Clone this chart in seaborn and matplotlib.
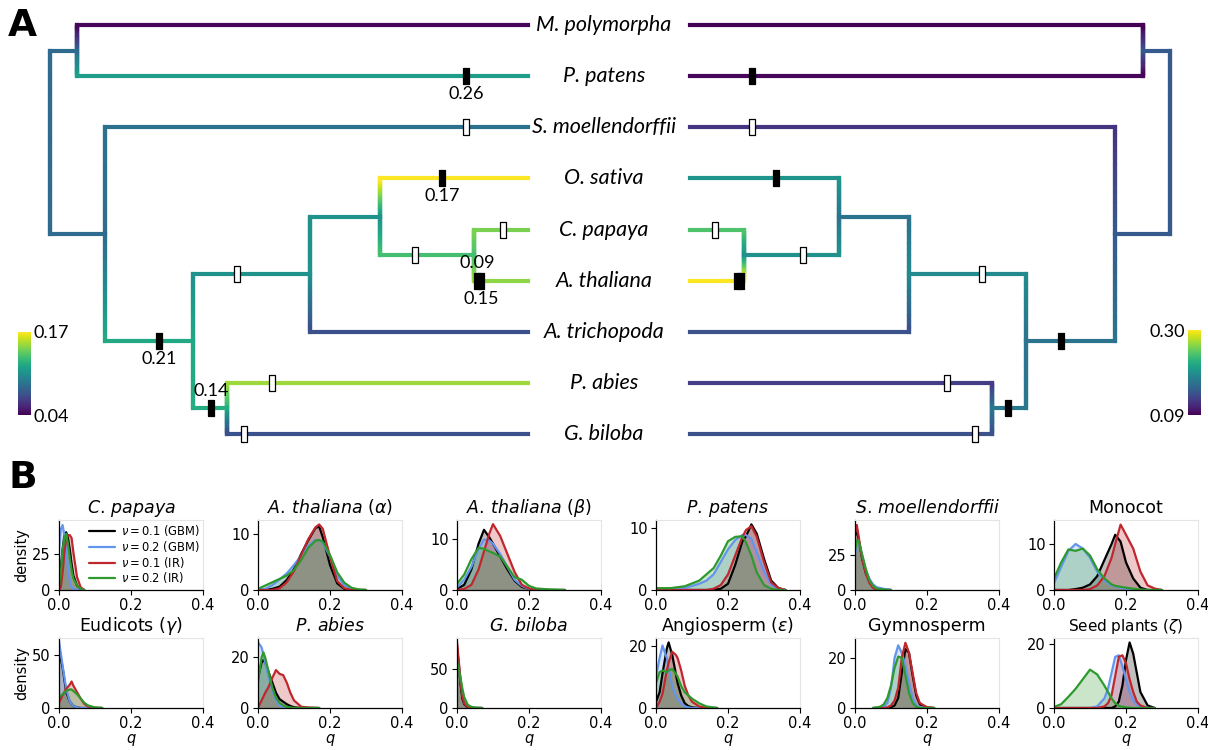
import numpy as np
import pandas as pd
import matplotlib
matplotlib.use("Agg")
import matplotlib.pyplot as plt
import matplotlib.transforms as mtransforms
from matplotlib.collections import LineCollection
from matplotlib.colors import Normalize
from matplotlib.colorbar import ColorbarBase
import seaborn as sns

# -------------------------------
# Panel A: species tree with WGD marks
# -------------------------------
TIPS = ["M. polymorpha", "P. patens", "S. moellendorffii", "O. sativa", "C. papaya",
        "A. thaliana", "A. trichopoda", "P. abies", "G. biloba"]

CHILDREN = {
    "root": ["bryophytes", "vascular"],
    "bryophytes": ["M. polymorpha", "P. patens"],
    "vascular": ["S. moellendorffii", "seed plants"],
    "seed plants": ["angiosperms", "gymnosperms"],
    "angiosperms": ["mesangiosperms", "A. trichopoda"],
    "mesangiosperms": ["O. sativa", "eudicots"],
    "eudicots": ["C. papaya", "A. thaliana"],
    "gymnosperms": ["P. abies", "G. biloba"],
}

# relative node ages (tips = 0, root = 1)
NODE_AGE = {"root": 1.0, "bryophytes": 0.944, "vascular": 0.885, "seed plants": 0.701,
            "angiosperms": 0.456, "mesangiosperms": 0.31, "eudicots": 0.113,
            "gymnosperms": 0.63}

# branch rates, left tree (scale 0.04-0.17) and right tree (0.09-0.30)
Q_LEFT = {"bryophytes": 0.085, "M. polymorpha": 0.042, "P. patens": 0.112,
          "vascular": 0.085, "S. moellendorffii": 0.089, "seed plants": 0.118,
          "angiosperms": 0.106, "A. trichopoda": 0.072, "mesangiosperms": 0.106,
          "O. sativa": 0.17, "eudicots": 0.131, "C. papaya": 0.144,
          "A. thaliana": 0.148, "gymnosperms": 0.12, "P. abies": 0.151,
          "G. biloba": 0.072}
Q_RIGHT = {"bryophytes": 0.149, "M. polymorpha": 0.09, "P. patens": 0.094,
           "vascular": 0.149, "S. moellendorffii": 0.122, "seed plants": 0.17,
           "angiosperms": 0.19, "A. trichopoda": 0.143, "mesangiosperms": 0.17,
           "O. sativa": 0.199, "eudicots": 0.195, "C. papaya": 0.241,
           "A. thaliana": 0.30, "gymnosperms": 0.174, "P. abies": 0.128,
           "G. biloba": 0.143}
Q_LEFT_RANGE = (0.04, 0.17)
Q_RIGHT_RANGE = (0.09, 0.30)

WGD_BRANCH = ["P. patens", "S. moellendorffii", "O. sativa", "C. papaya", "A. thaliana",
              "A. thaliana", "eudicots", "angiosperms", "seed plants", "gymnosperms",
              "P. abies", "G. biloba"]
WGD_AGE = [0.13, 0.13, 0.18, 0.052, 0.107, 0.098, 0.236, 0.609, 0.772, 0.663, 0.536, 0.594]
WGD_SOLID = [True, False, True, False, True, True, False, False, True, True, False, False]
WGD_LABEL = ["0.26", "", "0.17", "", "0.09", "0.15", "", "", "0.21", "0.14", "", ""]
WGD_LABEL_SIDE = ["below", "", "below", "", "above", "below", "", "", "below", "above", "", ""]

# -------------------------------
# Panel B: posterior densities of q
# -------------------------------
MODELS = [r"$\nu = 0.1$ (GBM)", r"$\nu = 0.2$ (GBM)", r"$\nu = 0.1$ (IR)", r"$\nu = 0.2$ (IR)"]
MODEL_COLORS = ["black", "cornflowerblue", "#c0272d", "#2e9a2e"]

TITLES = [r"$C.\,papaya$", r"$A.\,thaliana$ ($\alpha$)", r"$A.\,thaliana$ ($\beta$)",
          r"$P.\,patens$", r"$S.\,moellendorffii$", "Monocot",
          r"Eudicots ($\gamma$)", r"$P.\,abies$", r"$G.\,biloba$",
          r"Angiosperm ($\epsilon$)", "Gymnosperm", r"Seed plants ($\zeta$)"]
YMAX = [48.5, 12.6, 13.6, 11.2, 49.5, 15.2, 66, 27.7, 90, 22.4, 27.9, 21.9]
YTICK = [25, 10, 10, 10, 25, 10, 50, 20, 50, 20, 20, 20]

# each *_d holds densities for the four models, in MODELS order
papaya_q = [0, .005, .01, .015, .02, .025, .03, .035, .04, .05, .06, .07]
papaya_d = [[5, 15, 28, 38, 40, 36, 28, 18, 10, 3, 1, 0],
            [28, 42, 45, 38, 28, 15, 6, 2, 1, 0, 0, 0],
            [0, 2, 12, 26, 35, 38, 38, 36, 26, 9, 2, 0],
            [3, 12, 28, 36, 39, 32, 22, 14, 8, 3, 1, 0]]

alpha_q = [0, .02, .04, .06, .08, .10, .12, .14, .16, .17, .18, .20, .22, .24, .26, .28, .30]
alpha_d = [[0, 0, 0.2, 0.6, 1.8, 3.8, 6.5, 9.0, 11.2, 11.4, 9.5, 4.5, 1.2, 0.2, 0, 0, 0],
           [0, 0.2, 0.9, 1.9, 3.0, 4.5, 6.2, 8.0, 9.0, 9.0, 8.5, 6.0, 2.6, 0.8, 0.2, 0, 0],
           [0, 0, 0, 0.3, 1.4, 3.4, 6.3, 9.2, 11.3, 11.8, 11.0, 6.0, 1.6, 0.3, 0, 0, 0],
           [0.2, 0.8, 1.4, 2.0, 2.6, 3.6, 5.4, 7.6, 8.9, 9.0, 8.7, 6.3, 3.2, 1.3, 0.4, 0.1, 0]]

beta_q = [0, .02, .04, .06, .075, .09, .10, .12, .14, .16, .18, .20, .22, .26, .30]
beta_d = [[0.2, 1.0, 4.0, 9.0, 11.7, 10.2, 9.0, 6.5, 4.0, 1.8, 0.6, 0.2, 0, 0, 0],
          [0.5, 2.0, 4.5, 8.0, 9.8, 9.6, 9.0, 7.0, 4.5, 2.0, 0.8, 0.2, 0, 0, 0],
          [0, 0.2, 1.0, 4.0, 7.5, 11.0, 12.8, 10.5, 7.0, 3.5, 1.0, 0.3, 0, 0, 0],
          [1.2, 3.0, 6.0, 8.2, 8.0, 7.5, 7.2, 6.5, 4.5, 2.5, 2.0, 0.8, 0.3, 0.1, 0]]

patens_q = [0, .04, .08, .12, .14, .16, .18, .20, .22, .24, .25, .265, .28, .30, .32, .34, .36]
patens_d = [[0, 0, 0, 0, 0, 0, 0.2, 1.0, 4.0, 7.8, 8.6, 10.5, 9.0, 5.0, 1.5, 0.3, 0],
            [0, 0.1, 0.3, 1.0, 1.5, 2.5, 4.5, 6.5, 8.0, 8.8, 8.8, 8.2, 6.0, 3.0, 0.8, 0.2, 0],
            [0, 0, 0, 0, 0, 0.2, 0.8, 2.5, 5.5, 8.5, 9.6, 10.2, 8.5, 4.5, 1.2, 0.3, 0],
            [0.3, 0.3, 0.6, 1.5, 2.5, 3.5, 5.5, 7.8, 8.5, 8.6, 7.6, 5.5, 2.8, 0.8, 0.2, 0, 0]]

smoel_q = [0, .005, .01, .02, .03, .04, .05, .06, .08, .10]
smoel_d = [[38, 43, 36, 22, 12, 6, 2, 0.5, 0, 0],
           [25, 32, 34, 24, 14, 8, 4, 2, 0.8, 0.2],
           [40, 46, 38, 22, 12, 5, 1.5, 0.3, 0, 0],
           [28, 35, 35, 25, 15, 7, 3, 1, 0.3, 0]]

monocot_q = [0, .02, .04, .06, .08, .10, .12, .14, .16, .17, .185, .20, .22, .24, .26, .28, .30]
monocot_d = [[0, 0, 0, 0.2, 0.5, 1.2, 3.0, 6.5, 10.0, 12.0, 10.5, 6.0, 2.5, 0.5, 0, 0, 0],
             [1.5, 5.0, 8.5, 10.0, 9.0, 7.0, 4.0, 2.0, 1.0, 0.8, 0.5, 0.3, 0.1, 0, 0, 0, 0],
             [0, 0, 0, 0, 0, 0.2, 1.0, 3.0, 7.0, 10.0, 14.2, 12.0, 9.0, 4.0, 1.0, 0.3, 0],
             [2.5, 6.0, 8.8, 8.5, 9.0, 7.5, 4.5, 2.5, 1.2, 0.9, 0.7, 0.5, 0.3, 0.1, 0, 0, 0]]

eudicot_q = [0, .01, .02, .03, .035, .04, .05, .06, .07, .08, .10, .12]
eudicot_d = [[55, 38, 15, 6, 4, 2, 0.5, 0, 0, 0, 0, 0],
             [63, 40, 18, 6, 4, 2, 0.5, 0, 0, 0, 0, 0],
             [5, 12, 18, 22, 25, 21, 15, 9, 4, 1.5, 0.3, 0],
             [10, 13, 16, 17.5, 17.5, 16, 13, 9, 5, 2.5, 0.5, 0]]

abies_q = [0, .01, .015, .02, .03, .04, .05, .06, .07, .08, .09, .10, .12, .14, .17]
abies_d = [[12, 18, 19, 18, 14, 10, 6, 3.5, 2.5, 1.5, 0.8, 0.3, 0, 0, 0],
           [26, 24, 21, 18, 12, 7, 3, 1, 0.5, 0.2, 0, 0, 0, 0, 0],
           [0, 3, 4.5, 6, 8.5, 12, 15, 13.5, 13, 10, 6, 3, 0.5, 0.2, 0],
           [10, 20, 22, 20, 14, 8, 4, 2, 1, 0.5, 0.2, 0, 0, 0, 0]]

biloba_q = [0, .005, .01, .015, .02, .03, .04, .05, .07]
biloba_d = [[80, 55, 30, 12, 5, 1, 0, 0, 0],
            [70, 55, 35, 20, 10, 3, 1, 0.3, 0],
            [85, 60, 35, 15, 6, 1, 0, 0, 0],
            [60, 50, 38, 25, 14, 4, 1.5, 0.5, 0]]

angio_q = [0, .01, .018, .03, .035, .045, .055, .06, .07, .08, .09, .10, .12, .14, .17]
angio_d = [[2, 5, 11, 19, 21, 17, 11, 8, 4, 1.5, 0.6, 0.2, 0, 0, 0],
           [10, 16, 20, 16, 13, 7, 4, 3, 1.5, 0.5, 0.2, 0, 0, 0, 0],
           [0, 2, 4.5, 12, 14.5, 18, 17, 16, 12, 7, 4, 2, 0.5, 0, 0],
           [8, 11.5, 12, 11.5, 12, 12.5, 11, 10, 7, 5, 4, 3, 1.5, 0.5, 0]]

gymno_q = [.05, .07, .08, .09, .10, .11, .12, .13, .14, .15, .16, .17, .18, .20, .22]
gymno_d = [[0, 0, 0, 0, 0.3, 1.0, 4.0, 14.0, 23.5, 22.0, 13.0, 5.0, 1.5, 0.2, 0],
           [0, 0, 0.5, 2.0, 8.0, 20.0, 25.0, 22.0, 17.0, 10.0, 4.0, 1.0, 0.3, 0, 0],
           [0, 0, 0, 0.2, 1.0, 3.0, 8.0, 20.0, 26.0, 22.0, 14.0, 6.0, 2.0, 0.3, 0],
           [0, 0.5, 1.5, 4.0, 9.0, 16.0, 20.5, 20.0, 13.0, 6.0, 2.0, 0.5, 0, 0, 0]]

seed_q = [0, .02, .04, .06, .08, .10, .12, .14, .15, .16, .17, .18, .19, .20, .21, .22,
          .23, .24, .26, .28]
seed_d = [[0, 0, 0, 0, 0, 0, 0, 0, 0, 0, 0.5, 2, 7, 15, 20.5, 17, 11, 5, 0.8, 0],
          [0, 0, 0, 0, 0, 0, 0.5, 3, 6, 11, 16, 16.5, 13, 9, 5, 2.5, 1, 0.3, 0, 0],
          [0, 0, 0, 0, 0, 0, 0, 0.5, 1.5, 4, 10, 16, 16.5, 14, 9, 5, 2, 0.8, 0, 0],
          [0.3, 1.2, 3.5, 6, 9, 12, 10.5, 7, 5, 3, 1.5, 0.7, 0.4, 0.2, 0.1, 0, 0, 0, 0, 0]]

PANEL_Q = [papaya_q, alpha_q, beta_q, patens_q, smoel_q, monocot_q,
           eudicot_q, abies_q, biloba_q, angio_q, gymno_q, seed_q]
PANEL_D = [papaya_d, alpha_d, beta_d, patens_d, smoel_d, monocot_d,
           eudicot_d, abies_d, biloba_d, angio_d, gymno_d, seed_d]

W, H = 1208, 750
LW = 3.0
RECT = [(-1, -3), (1, -3), (1, 3), (-1, 3), (-1, -3)]
TREE_FONT = ["Lato", "DejaVu Sans"]


def node_y(n):
    if n in TIPS:
        return TIPS.index(n)
    return np.mean([node_y(c) for c in CHILDREN[n]])


def node_age(n):
    return 0.0 if n in TIPS else NODE_AGE[n]


def draw_tree(ax, qvals, norm, labels=False):
    cmap = plt.get_cmap("viridis")
    parent = {c: p for p, cs in CHILDREN.items() for c in cs}
    for n, p in parent.items():
        yn, yp = node_y(n), node_y(p)
        qn = qvals[n]
        qp = qvals.get(p, qn)
        # vertical connector fades from the parent rate to the child rate
        ys = np.linspace(yp, yn, 25)
        pts = np.column_stack([np.full_like(ys, NODE_AGE[p]), ys])
        segs = np.stack([pts[:-1], pts[1:]], axis=1)
        cols = cmap(norm(np.linspace(qp, qn, len(segs))))
        ax.add_collection(LineCollection(segs, colors=cols, linewidths=LW,
                                         capstyle="projecting", zorder=2))
        ax.plot([NODE_AGE[p], node_age(n)], [yn, yn], color=cmap(norm(qn)), lw=LW,
                solid_capstyle="projecting", zorder=3, clip_on=False)
    for b, a, solid, lab, side in zip(WGD_BRANCH, WGD_AGE, WGD_SOLID, WGD_LABEL, WGD_LABEL_SIDE):
        y = node_y(b)
        ax.plot(a, y, marker=RECT, ms=11, ls="none", mfc="black" if solid else "white",
                mec="black", mew=0.9, zorder=5, clip_on=False)
        if labels and lab:
            dy = -13 if side == "below" else 12.5
            ax.annotate(lab, (a, y), xytext=(0, dy), textcoords="offset points",
                        ha="center", va="center", fontsize=13, family=TREE_FONT,
                        color="black")


sns.set_style("ticks")
plt.rcParams["font.family"] = ["DejaVu Sans"]
for key in ("text.color", "axes.labelcolor", "xtick.color", "ytick.color", "axes.edgecolor"):
    plt.rcParams[key] = "black"

fig = plt.figure(figsize=(W / 100, H / 100), dpi=100)

# tree axes: left tree ends at x=528 px, right tree starts at x=690 px
top_h = 460 / H
ax_l = fig.add_axes([0, 1 - top_h, 528 / W, top_h])
ax_l.set_xlim(528 / 478, 0)
ax_r = fig.add_axes([690 / W, 1 - top_h, 518 / W, top_h])
ax_r.set_xlim(0, 518 / 480)
for a in (ax_l, ax_r):
    a.set_ylim((460 - 25) / 51.125, -25 / 51.125)
    a.axis("off")

norm_l = Normalize(*Q_LEFT_RANGE)
norm_r = Normalize(*Q_RIGHT_RANGE)
draw_tree(ax_l, Q_LEFT, norm_l, labels=True)
draw_tree(ax_r, Q_RIGHT, norm_r)

mid = mtransforms.blended_transform_factory(fig.transFigure, ax_l.transData)
for i, name in enumerate(TIPS):
    ax_l.text(0.5, i, name, transform=mid, ha="center", va="center", fontsize=15.5,
              style="italic", family=TREE_FONT)

# colour scales
cax_l = fig.add_axes([18 / W, 1 - 415 / H, 13 / W, 83 / H])
cax_r = fig.add_axes([1188 / W, 1 - 415 / H, 13 / W, 85 / H])
for cax, norm, rng, side in ((cax_l, norm_l, Q_LEFT_RANGE, "right"),
                             (cax_r, norm_r, Q_RIGHT_RANGE, "left")):
    cb = ColorbarBase(cax, cmap="viridis", norm=norm, ticks=list(rng))
    cb.outline.set_visible(False)
    cb.ax.set_yticklabels([f"{v:.2f}" for v in rng])
    cb.ax.yaxis.set_ticks_position(side)
    cb.ax.tick_params(length=0, pad=2, labelsize=13)
    for t in cb.ax.get_yticklabels():
        t.set_family(TREE_FONT)

fig.text(8 / W, 1 - 26 / H, "A", fontsize=27, weight="bold", va="center", ha="left")
fig.text(8 / W, 1 - 478 / H, "B", fontsize=27, weight="bold", va="center", ha="left")

# density panels
AX_X = [59, 258, 457, 656, 855, 1054]
AX_BOTTOM = [590, 708]
for k, (title, q, dens) in enumerate(zip(TITLES, PANEL_Q, PANEL_D)):
    row, col = divmod(k, 6)
    ax = fig.add_axes([AX_X[col] / W, 1 - AX_BOTTOM[row] / H, 144 / W, 70 / H])
    df = pd.DataFrame({"q": np.tile(q, 4),
                       "density": np.concatenate(dens),
                       "model": np.repeat(MODELS, len(q))})
    sns.lineplot(data=df, x="q", y="density", hue="model", hue_order=MODELS,
                 palette=MODEL_COLORS, estimator=None, sort=False, linewidth=1.6,
                 legend=False, ax=ax)
    for d, c in zip(dens, MODEL_COLORS):
        ax.fill_between(q, d, color=c, alpha=0.25, lw=0)
    ax.set_xlim(0, 0.4)
    ax.set_ylim(0, YMAX[k])
    ax.set_xticks([0, 0.2, 0.4])
    ax.set_xticklabels(["0.0", "0.2", "0.4"])
    ax.set_yticks([0, YTICK[k]])
    ax.tick_params(labelsize=10.5, length=3.5, width=0.8, pad=2.5)
    for s in ("top", "right"):
        ax.spines[s].set_color("#e4e4e4")
    for s in ("left", "bottom"):
        ax.spines[s].set_linewidth(0.9)
    ax.set_title(title, fontsize=11 if k == 11 else 12.5, pad=5)
    ax.set_xlabel(r"$q$" if row == 1 else "", fontsize=10.5, labelpad=0.5)
    ax.set_ylabel("density" if col == 0 else "", fontsize=10.5, labelpad=2)
    if k == 0:
        ax.legend(ax.lines[:4], MODELS, loc="upper left", bbox_to_anchor=(0.19, 0.99),
                  frameon=False, fontsize=8.3, handlelength=2.3, labelspacing=0.07,
                  handletextpad=0.5, borderaxespad=0, borderpad=0.2)

fig.savefig("out.png", dpi=100)
